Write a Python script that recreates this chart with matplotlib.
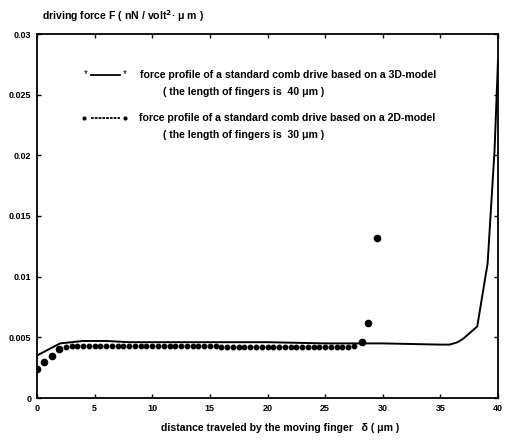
import matplotlib
matplotlib.use("Agg")
import matplotlib.pyplot as plt
from matplotlib.lines import Line2D
import numpy as np

plt.rcParams['font.family'] = ['Liberation Sans', 'DejaVu Sans']

# 3D-model force profile (fingers 40 um) - solid line
x3d = [0, 2, 4, 5, 6, 8, 10, 15, 20, 25, 27, 30, 35, 35.8, 36.5, 37, 38.2, 39.1, 39.7, 40]
y3d = [0.0035, 0.0045, 0.0047, 0.0047, 0.0047, 0.0046, 0.0046, 0.0046, 0.0046, 0.0045,
       0.0045, 0.0045, 0.0044, 0.0044, 0.0046, 0.0049, 0.0059, 0.0111, 0.0204, 0.0278]

# 2D-model force profile (fingers 30 um) - dots
x2d = [0, 0.6, 1.3, 1.9, 2.5, 3.0, 3.5, 4.0, 4.5, 5.0, 5.5, 6.0, 6.5, 7.0, 7.5, 8.0, 8.5,
       9.0, 9.5, 10.0, 10.5, 11.0, 11.5, 12.0, 12.5, 13.0, 13.5, 14.0, 14.5, 15.0, 15.5,
       16.0, 16.5, 17.0, 17.5, 18.0, 18.5, 19.0, 19.5, 20.0, 20.5, 21.0, 21.5, 22.0, 22.5,
       23.0, 23.5, 24.0, 24.5, 25.0, 25.5, 26.0, 26.5, 27.0, 27.5, 28.2, 28.7, 29.5]
y2d = [0.0024, 0.0030, 0.0035, 0.0040, 0.0042, 0.0043, 0.0043, 0.0043, 0.0043, 0.0043,
       0.0043, 0.0043, 0.0043, 0.0043, 0.0043, 0.0043, 0.0043, 0.0043, 0.0043, 0.0043,
       0.0043, 0.0043, 0.0043, 0.0043, 0.0043, 0.0043, 0.0043, 0.0043, 0.0043, 0.0043,
       0.0043, 0.0042, 0.0042, 0.0042, 0.0042, 0.0042, 0.0042, 0.0042, 0.0042, 0.0042,
       0.0042, 0.0042, 0.0042, 0.0042, 0.0042, 0.0042, 0.0042, 0.0042, 0.0042, 0.0042,
       0.0042, 0.0042, 0.0042, 0.0042, 0.0043, 0.0046, 0.0062, 0.0132]

xticks = [0, 5, 10, 15, 20, 25, 30, 35, 40]
yticks = [0, 0.005, 0.01, 0.015, 0.02, 0.025, 0.03]
ytick_labels = ['0', '0.005', '0.01', '0.015', '0.02', '0.025', '0.03']

fig = plt.figure(figsize=(5.05, 4.43), dpi=100)
ax = fig.add_axes([37/505, 1-398/443, (498-37)/505, (398-34)/443])

ax.plot(x3d, y3d, color='black', lw=1.4, solid_joinstyle='round')

x2 = np.array(x2d); y2 = np.array(y2d)
small = (x2 > 2.2) & (x2 < 28)
ax.plot(x2[small], y2[small], ls='none', marker='o', ms=3.2, color='black')
ax.plot(x2[~small], y2[~small], ls='none', marker='o', ms=4.5, color='black')

ax.set_xlim(0, 40)
ax.set_ylim(0, 0.03)
ax.set_xticks(xticks)
ax.set_xticklabels([str(t) for t in xticks])
ax.set_yticks(yticks)
ax.set_yticklabels(ytick_labels)
ax.tick_params(direction='in', length=3, width=1, labelsize=6.5, top=True, right=True, pad=4)
for lab in ax.get_xticklabels() + ax.get_yticklabels():
    lab.set_fontweight('bold')
for s in ax.spines.values():
    s.set_linewidth(1.3)

fs = 7.6
fig.text(42/505, 1-16/443, 'driving force F ( nN / volt$^{\\mathbf{2}}$\u00b7 \u03bc m )',
         fontsize=fs, fontweight='bold', va='center', ha='left')
fig.text(280/505, 1-428/443, 'distance traveled by the moving finger   \u03b4 ( \u03bcm )',
         fontsize=fs, fontweight='bold', va='center', ha='center')

# legend
def px(x, y):
    return x/505, 1-y/443
l1 = Line2D([px(91, 0)[0], px(120, 0)[0]], [px(0, 75)[1]]*2, transform=fig.transFigure, color='black', lw=1.3)
fig.lines.append(l1)
fig.text(*px(86, 74), '*', fontsize=7, ha='center', va='center', transform=fig.transFigure)
fig.text(*px(125, 74), '*', fontsize=7, ha='center', va='center', transform=fig.transFigure)
l2 = Line2D([px(91, 0)[0], px(120, 0)[0]], [px(0, 118)[1]]*2, transform=fig.transFigure, color='black', lw=1.3, ls=(0, (1.5, 0.6)))
fig.lines.append(l2)
fig.lines.append(Line2D([px(84, 0)[0]], [px(0, 118)[1]], transform=fig.transFigure, marker='o', ms=2, color='black'))
fig.lines.append(Line2D([px(125, 0)[0]], [px(0, 118)[1]], transform=fig.transFigure, marker='o', ms=2, color='black'))

fig.text(*px(140, 75), 'force profile of a standard comb drive based on a 3D-model',
         fontsize=fs, fontweight='bold', va='center', ha='left')
fig.text(*px(163, 92), '( the length of fingers is  40 \u03bcm )',
         fontsize=fs, fontweight='bold', va='center', ha='left')
fig.text(*px(139, 118), 'force profile of a standard comb drive based on a 2D-model',
         fontsize=fs, fontweight='bold', va='center', ha='left')
fig.text(*px(163, 135), '( the length of fingers is  30 \u03bcm )',
         fontsize=fs, fontweight='bold', va='center', ha='left')

fig.savefig('out.png', dpi=100)
